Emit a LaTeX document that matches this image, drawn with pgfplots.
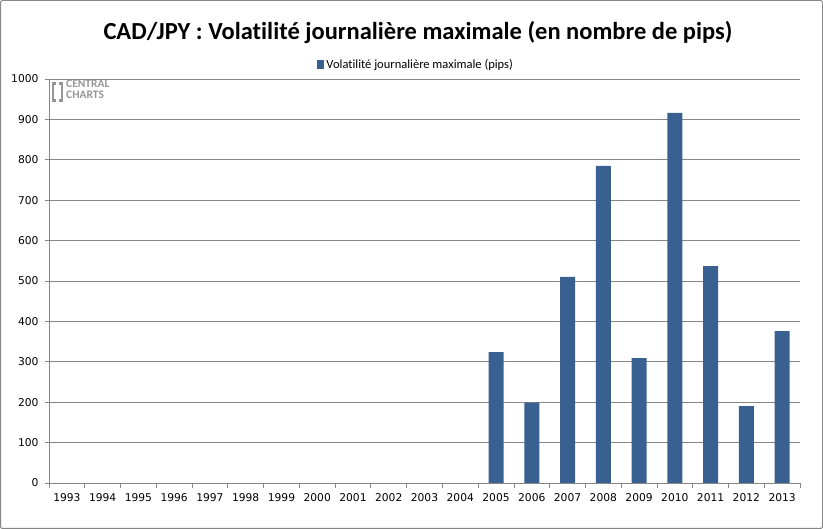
\documentclass[border=0pt]{standalone}
\usepackage{pgfplots}
\pgfplotsset{compat=1.18}
\usepackage{fontspec}
\setmainfont{Carlito}[Ligatures=NoCommon]
\newfontfamily\tickfont{DejaVu Sans}
\definecolor{barblue}{RGB}{56,97,145}
\definecolor{gridgray}{RGB}{134,134,134}
\definecolor{logogray}{RGB}{150,150,150}
\begin{document}
\begin{tikzpicture}[x=1pt,y=1pt]
\draw[gridgray, rounded corners=2pt, line width=1pt] (0.5,0.5) rectangle (822.5,528.5);
\node[font=\fontsize{24.5}{28}\selectfont\bfseries] at (418,497) {CAD/JPY : Volatilité journalière maximale (en nombre de pips)};
% logo watermark
\fill[logogray] (52,427) rectangle (56,447);
\fill[logogray] (59,427) rectangle (63,447);
\fill[white] (54,430) rectangle (61,444);
\node[anchor=north west, inner sep=0pt, align=left, text=logogray, font=\fontsize{11.5}{11}\selectfont\bfseries] at (66,449) {CENTRAL\\CHARTS};
\begin{axis}[
  at={(49pt,46pt)}, anchor=south west,
  scale only axis, width=751pt, height=404pt,
  xmin=-0.5, xmax=20.5, ymin=0, ymax=1000,
  axis x line*=bottom, axis y line*=left,
  axis line style={gridgray, line width=0.8pt, -},
  ytick={0,100,...,1000},
  xtick={0,...,20},
  xticklabels={1993,1994,1995,1996,1997,1998,1999,2000,2001,2002,2003,2004,2005,2006,2007,2008,2009,2010,2011,2012,2013},
  minor xtick={-0.5,0.5,...,20.5},
  major x tick style={draw=none},
  minor x tick style={gridgray, line width=0.8pt},
  y tick style={gridgray, line width=0.8pt},
  tick align=outside,
  minor tick length=5pt, major tick length=4pt,
  ymajorgrids, grid style={gridgray, line width=0.8pt},
  /pgf/number format/assume math mode=true,
  /pgf/number format/1000 sep={},
  ticklabel style={font=\tickfont\fontsize{10.7}{12}\selectfont},
  xticklabel style={yshift=-3pt},
  yticklabel style={xshift=-3pt},
  ybar, bar width=15pt, bar shift=0pt,
  legend style={at={(0.489,1.035)}, anchor=center, draw=none, fill=none,
    font=\fontsize{12.5}{14}\selectfont, inner sep=0pt,
    /tikz/every even column/.append style={column sep=2pt}},
  legend image code/.code={\fill[barblue] (0pt,-4.5pt) rectangle (7pt,4.5pt);},
]
\addplot[fill=barblue, draw=none] coordinates {
  (12,324) (13,199) (14,510) (15,785) (16,309) (17,916) (18,537) (19,190) (20,376)
};
\addlegendentry{Volatilité journalière maximale (pips)}
\end{axis}
\end{tikzpicture}
\end{document}
